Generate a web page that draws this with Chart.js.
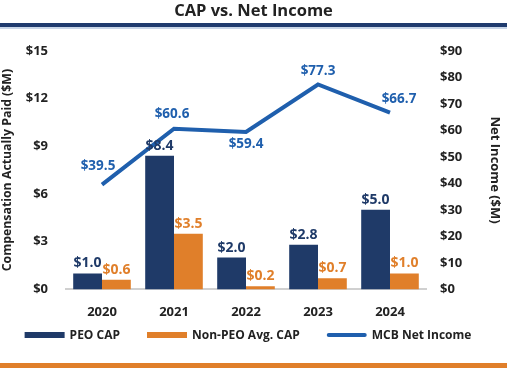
<!DOCTYPE html>
<html>
<head>
<meta charset="utf-8">
<script src="https://cdn.jsdelivr.net/npm/chart.js@4.4.1/dist/chart.umd.min.js"></script>
<style>
  html,body{margin:0;padding:0;background:#fff;}
  #wrap{position:relative;width:507px;height:368px;overflow:hidden;}
  #c{position:absolute;left:0;top:0;}
  .bar{position:absolute;left:0;width:507px;}
</style>
</head>
<body>
<div id="wrap">
  <canvas id="c" width="507" height="368"></canvas>
  <div class="bar" style="top:23px;height:4px;background:#1f3b6e;"></div>
  <div class="bar" style="top:27px;height:2px;background:#c9d6e8;"></div>
  <div class="bar" style="top:363px;height:5px;background:#e07f2a;"></div>
</div>
<script>
const categories = ['2020', '2021', '2022', '2023', '2024'];
const peoCap = [1.0, 8.4, 2.0, 2.8, 5.0];
const nonPeoCap = [0.6, 3.5, 0.2, 0.7, 1.0];
const netIncome = [39.5, 60.6, 59.4, 77.3, 66.7];
const leftTicks = [0, 3, 6, 9, 12, 15];
const rightTicks = [0, 10, 20, 30, 40, 50, 60, 70, 80, 90];

const NAVY = '#1f3a68';
const ORANGE = '#e07f2a';
const BLUE = '#1f5fad';
const TXT = '#222222';
const FONT = "'Open Sans', 'DejaVu Sans', sans-serif";

// label offsets for the line values (style only)
const lineLabelDX = [-4, -2, 0, 0, 9];
const lineLabelDY = [-19, -15, 12, -13, -13];

const labelPlugin = {
  id: 'valueLabels',
  afterDatasetsDraw(chart) {
    const ctx = chart.ctx;
    ctx.save();
    ctx.textAlign = 'center';
    ctx.textBaseline = 'middle';
    chart.data.datasets.forEach((ds, i) => {
      const meta = chart.getDatasetMeta(i);
      meta.data.forEach((el, j) => {
        const v = ds.data[j];
        const t = '$' + v.toFixed(1);
        if (ds.type === 'line') {
          ctx.font = "bold 13.5px " + FONT;
          ctx.fillStyle = BLUE;
          ctx.fillText(t, el.x + lineLabelDX[j], el.y + lineLabelDY[j]);
        } else {
          ctx.font = "bold 14px " + FONT;
          ctx.fillStyle = ds.backgroundColor;
          ctx.fillText(t, el.x, el.y - 10);
        }
      });
    });
    ctx.restore();
  }
};

// legend drawn from the dataset labels/colours
const legendPlugin = {
  id: 'customLegend',
  afterDraw(chart) {
    const ctx = chart.ctx;
    const boxW = 40, boxH = 6, gapText = 5, gapItem = 27, y = 335;
    ctx.save();
    ctx.font = "bold 12px " + FONT;
    ctx.textBaseline = 'middle';
    const items = chart.data.datasets.map(ds => ({
      text: ds.label,
      color: ds.type === 'line' ? ds.borderColor : ds.backgroundColor,
      line: ds.type === 'line',
      w: boxW + gapText + ctx.measureText(ds.label).width
    }));
    const total = items.reduce((a, it) => a + it.w, 0) + gapItem * (items.length - 1);
    let x = 248 - total / 2;
    items.forEach(it => {
      ctx.fillStyle = it.color;
      if (it.line) {
        ctx.strokeStyle = it.color;
        ctx.lineWidth = 4;
        ctx.lineCap = 'round';
        ctx.beginPath();
        ctx.moveTo(x + 2, y);
        ctx.lineTo(x + boxW - 2, y);
        ctx.stroke();
      } else {
        ctx.fillRect(x, y - boxH / 2, boxW, boxH);
      }
      ctx.fillStyle = TXT;
      ctx.fillText(it.text, x + boxW + gapText, y + 0.5);
      x += it.w + gapItem;
    });
    ctx.restore();
  }
};

function draw() {
new Chart(document.getElementById('c'), {
  data: {
    labels: categories,
    datasets: [
      { type: 'bar', label: 'PEO CAP', data: peoCap, backgroundColor: NAVY, yAxisID: 'y', order: 1,
        categoryPercentage: 0.8, barPercentage: 1.0 },
      { type: 'bar', label: 'Non-PEO Avg. CAP', data: nonPeoCap, backgroundColor: ORANGE, yAxisID: 'y', order: 1,
        categoryPercentage: 0.8, barPercentage: 1.0 },
      { type: 'line', label: 'MCB Net Income', data: netIncome, borderColor: BLUE, backgroundColor: BLUE,
        borderWidth: 4, pointRadius: 0, tension: 0, yAxisID: 'y1', order: 0 }
    ]
  },
  options: {
    responsive: false,
    animation: false,
    layout: { padding: { top: 0, bottom: 33, left: 0, right: 0 } },
    plugins: {
      title: {
        display: true, text: 'CAP vs. Net Income', color: TXT,
        font: { family: FONT, size: 16.5, weight: 'bold' },
        padding: { top: 1, bottom: 30 }
      },
      legend: { display: false },
      tooltip: { enabled: false }
    },
    scales: {
      x: {
        grid: { display: false, drawTicks: false },
        border: { display: true, color: '#d0d0d0', width: 2 },
        ticks: { color: TXT, font: { family: FONT, size: 13, weight: 'bold' }, padding: 15 }
      },
      y: {
        position: 'left', min: 0, max: 15,
        afterBuildTicks(s) { s.ticks = leftTicks.map(v => ({ value: v })); },
        grid: { display: false, drawTicks: false },
        border: { display: false },
        ticks: { color: TXT, font: { family: FONT, size: 13, weight: 'bold' }, padding: 18, autoSkip: false,
          callback: v => '$' + v },
        title: { display: true, text: 'Compensation Actually Paid ($M)', color: TXT,
          font: { family: FONT, size: 12.3, weight: 'bold' }, padding: { top: 0, bottom: 0 } },
        afterFit(s) { s.width = 66; }
      },
      y1: {
        position: 'right', min: 0, max: 90,
        afterBuildTicks(s) { s.ticks = rightTicks.map(v => ({ value: v })); },
        grid: { display: false, drawTicks: false },
        border: { display: false },
        ticks: { color: TXT, font: { family: FONT, size: 13, weight: 'bold' }, padding: 14, autoSkip: false,
          callback: v => '$' + v },
        title: { display: true, text: 'Net Income ($M)', color: TXT,
          font: { family: FONT, size: 13, weight: 'bold' }, padding: { top: 4, bottom: 0 } },
        afterFit(s) { s.width = 81; }
      }
    }
  },
  plugins: [labelPlugin, legendPlugin]
});
}
if (document.fonts && document.fonts.load) {
  Promise.all([
    document.fonts.load("bold 14px 'Open Sans'"),
    document.fonts.load("bold 17px 'Open Sans'")
  ]).then(draw, draw);
} else { draw(); }
</script>
</body>
</html>
